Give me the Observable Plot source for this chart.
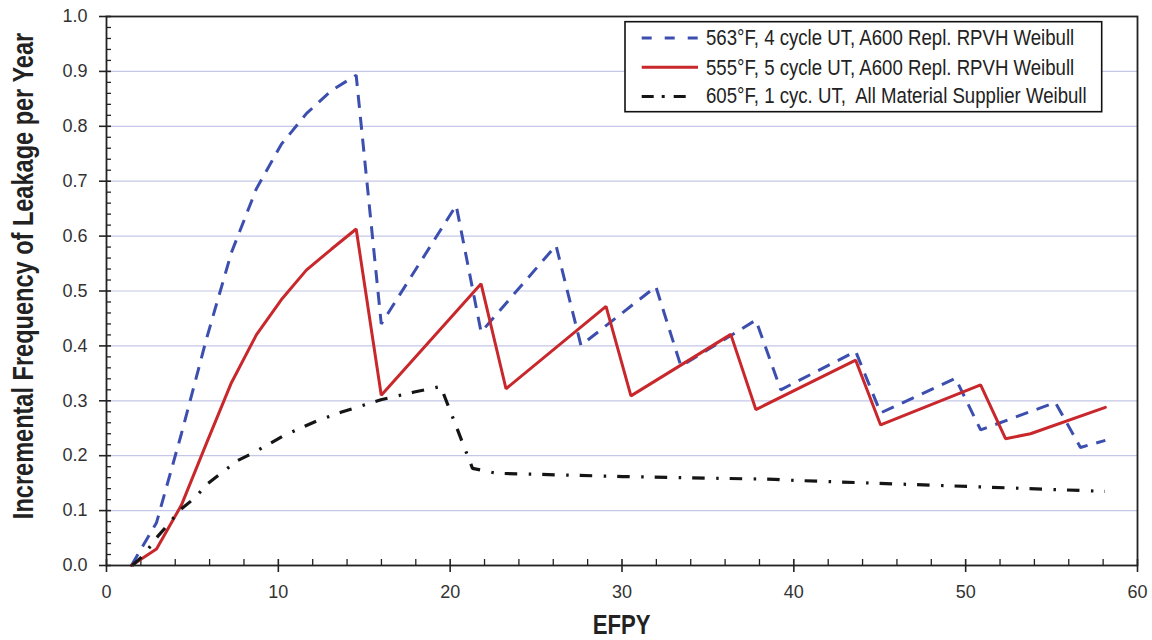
<!DOCTYPE html>
<html>
<head>
<meta charset="utf-8">
<script src="https://cdn.jsdelivr.net/npm/d3@7"></script>
<script src="https://cdn.jsdelivr.net/npm/@observablehq/plot@0.6"></script>
<style>
  html, body { margin: 0; padding: 0; background: #fff; }
  #chart svg { display: block; }
</style>
</head>
<body>
<div id="chart"></div>
<script>
// 563°F, 4 cycle UT, A600 replacement RPVH Weibull
const efpy563 = [1.45, 2.91, 4.36, 5.81, 7.27, 8.72, 10.17, 11.63, 13.08, 14.53,
                 15.99, 20.35, 21.8, 26.16, 27.61, 31.97, 33.43, 37.79, 39.24,
                 43.6, 45.05, 49.41, 50.87, 55.22, 56.68, 58.13];
const leak563 = [0, 0.078, 0.240, 0.412, 0.570, 0.686, 0.767, 0.823, 0.865, 0.893,
                 0.440, 0.656, 0.425, 0.583, 0.401, 0.508, 0.363, 0.447, 0.320,
                 0.390, 0.278, 0.341, 0.247, 0.297, 0.215, 0.228];

// 555°F, 5 cycle UT, A600 replacement RPVH Weibull
const efpy555 = [1.45, 2.91, 4.36, 5.81, 7.27, 8.72, 10.17, 11.63, 13.08, 14.53,
                 15.99, 21.8, 23.25, 29.07, 30.52, 36.33, 37.79, 43.6, 45.05,
                 50.87, 52.32, 53.77, 58.13];
const leak555 = [0, 0.030, 0.110, 0.222, 0.333, 0.420, 0.484, 0.538, 0.576, 0.613,
                 0.310, 0.513, 0.322, 0.472, 0.309, 0.421, 0.284, 0.374, 0.256,
                 0.329, 0.231, 0.240, 0.288];

// 605°F, 1 cycle UT, all material supplier Weibull
const efpy605 = [1.5, 2.2, 2.87, 3.6, 4.23, 5.1, 5.88, 6.75, 7.62, 8.59, 10.34,
                 12.28, 13.64, 15.97, 17.91, 19.45, 21.3, 22.67, 30.03, 38.86,
                 40.02, 50.12, 58.1];
const leak605 = [0, 0.020, 0.049, 0.075, 0.100, 0.122, 0.149, 0.170, 0.191, 0.206,
                 0.237, 0.264, 0.279, 0.302, 0.316, 0.326, 0.177, 0.168, 0.162,
                 0.157, 0.155, 0.144, 0.135];

const seriesNames = [
  "563°F, 4 cycle UT, A600 Repl. RPVH Weibull",
  "555°F, 5 cycle UT, A600 Repl. RPVH Weibull",
  "605°F, 1 cyc. UT,  All Material Supplier Weibull"
];

// axis ticks
const yMajor = [0, 0.1, 0.2, 0.3, 0.4, 0.5, 0.6, 0.7, 0.8, 0.9, 1.0];
const yGrid = [0.1, 0.2, 0.3, 0.4, 0.5, 0.6, 0.7, 0.8, 0.9];
const yMinor = [0.02, 0.04, 0.06, 0.08, 0.12, 0.14, 0.16, 0.18, 0.22, 0.24, 0.26, 0.28,
                0.32, 0.34, 0.36, 0.38, 0.42, 0.44, 0.46, 0.48, 0.52, 0.54, 0.56, 0.58,
                0.62, 0.64, 0.66, 0.68, 0.72, 0.74, 0.76, 0.78, 0.82, 0.84, 0.86, 0.88,
                0.92, 0.94, 0.96, 0.98];
const xMajor = [0, 10, 20, 30, 40, 50, 60];
const xMinor = [2, 4, 6, 8, 12, 14, 16, 18, 22, 24, 26, 28, 32, 34, 36, 38,
                42, 44, 46, 48, 52, 54, 56, 58];

const toRows = (xs, ys) => xs.map((x, i) => ({efpy: x, leak: ys[i]}));
const rows563 = toRows(efpy563, leak563);
const rows555 = toRows(efpy555, leak555);
const rows605 = toRows(efpy605, leak605);

const W = 1152, H = 640;
const mL = 106, mR = 15, mT = 16, mB = 75;
const innerW = W - mL - mR, innerH = H - mT - mB;
const FONT = "'Liberation Sans', Arial, sans-serif";

const styles = [
  {stroke: "#3c4fae", width: 3, dash: "13,9"},
  {stroke: "#c8282c", width: 3, dash: null},
  {stroke: "#151515", width: 3.2, dash: "12.5,11.5,2.5,11"}
];

const chart = Plot.plot({
  width: W, height: H,
  marginLeft: mL, marginRight: mR, marginTop: mT, marginBottom: mB,
  x: {domain: [0, 60]},
  y: {domain: [0, 1]},
  style: {fontFamily: FONT, color: "#333", background: "#fff"},
  marks: [
    Plot.ruleY(yGrid, {stroke: "#c4c7e7", strokeWidth: 1.2}),
    Plot.tickY(yMinor, {y: d => d, insetRight: innerW - 5, stroke: "#222", strokeWidth: 1.3}),
    Plot.tickY(yMajor, {y: d => d, insetLeft: -7, insetRight: innerW - 5, stroke: "#222", strokeWidth: 1.6}),
    Plot.tickX(xMinor, {x: d => d, insetTop: innerH - 6, stroke: "#222", strokeWidth: 1.3}),
    Plot.tickX(xMajor, {x: d => d, insetTop: innerH - 6, insetBottom: -7, stroke: "#222", strokeWidth: 1.6}),
    Plot.axisY({ticks: yMajor, tickSize: 0, tickPadding: 19, tickFormat: d3.format(".1f"), fontSize: 18, label: null}),
    Plot.axisX({ticks: xMajor, tickSize: 0, tickPadding: 20, fontSize: 18, label: null}),
    Plot.line(rows563, {x: "efpy", y: "leak", stroke: styles[0].stroke, strokeWidth: styles[0].width,
      strokeDasharray: styles[0].dash, strokeLinecap: "butt", strokeLinejoin: "miter"}),
    Plot.line(rows555, {x: "efpy", y: "leak", stroke: styles[1].stroke, strokeWidth: styles[1].width,
      strokeLinejoin: "miter"}),
    Plot.line(rows605, {x: "efpy", y: "leak", stroke: styles[2].stroke, strokeWidth: styles[2].width,
      strokeDasharray: styles[2].dash, strokeLinecap: "butt", strokeLinejoin: "miter"}),
    Plot.frame({stroke: "#222", strokeWidth: 1.8})
  ]
});

document.getElementById("chart").appendChild(chart);

const svg = d3.select(chart);

// axis titles, set in a condensed bold face
svg.append("text")
  .attr("transform", "translate(32.7,276) rotate(-90) scale(0.812,1)")
  .attr("text-anchor", "middle")
  .attr("font-family", FONT)
  .attr("font-weight", "bold")
  .attr("font-size", 29)
  .attr("fill", "#222")
  .text("Incremental Frequency of Leakage per Year");

svg.append("text")
  .attr("transform", "translate(621.7,634) scale(0.82,1)")
  .attr("text-anchor", "middle")
  .attr("font-family", FONT)
  .attr("font-weight", "bold")
  .attr("font-size", 27)
  .attr("fill", "#222")
  .text("EFPY");

// legend box
const lg = svg.append("g");
lg.append("rect")
  .attr("x", 625).attr("y", 21.7).attr("width", 476.7).attr("height", 90)
  .attr("fill", "#fff").attr("stroke", "#111").attr("stroke-width", 1.6);

const rowY = [38, 67.3, 96.5];
const baseY = [45, 75, 103.3];
const sampleDash = ["10,13", null, "12,8,3,9"];
const sampleEnd = [698, 698, 690];
seriesNames.forEach((name, i) => {
  const ln = lg.append("line")
    .attr("x1", 641.7).attr("x2", sampleEnd[i])
    .attr("y1", rowY[i]).attr("y2", rowY[i])
    .attr("stroke", styles[i].stroke).attr("stroke-width", styles[i].width);
  if (sampleDash[i]) ln.attr("stroke-dasharray", sampleDash[i]);
  lg.append("text")
    .attr("transform", `translate(706,${baseY[i]}) scale(0.866,1)`)
    .attr("text-anchor", "start")
    .attr("font-family", FONT)
    .attr("font-size", 21.5)
    .attr("fill", "#222")
    .style("white-space", "pre")
    .text(name);
});
</script>
</body>
</html>
